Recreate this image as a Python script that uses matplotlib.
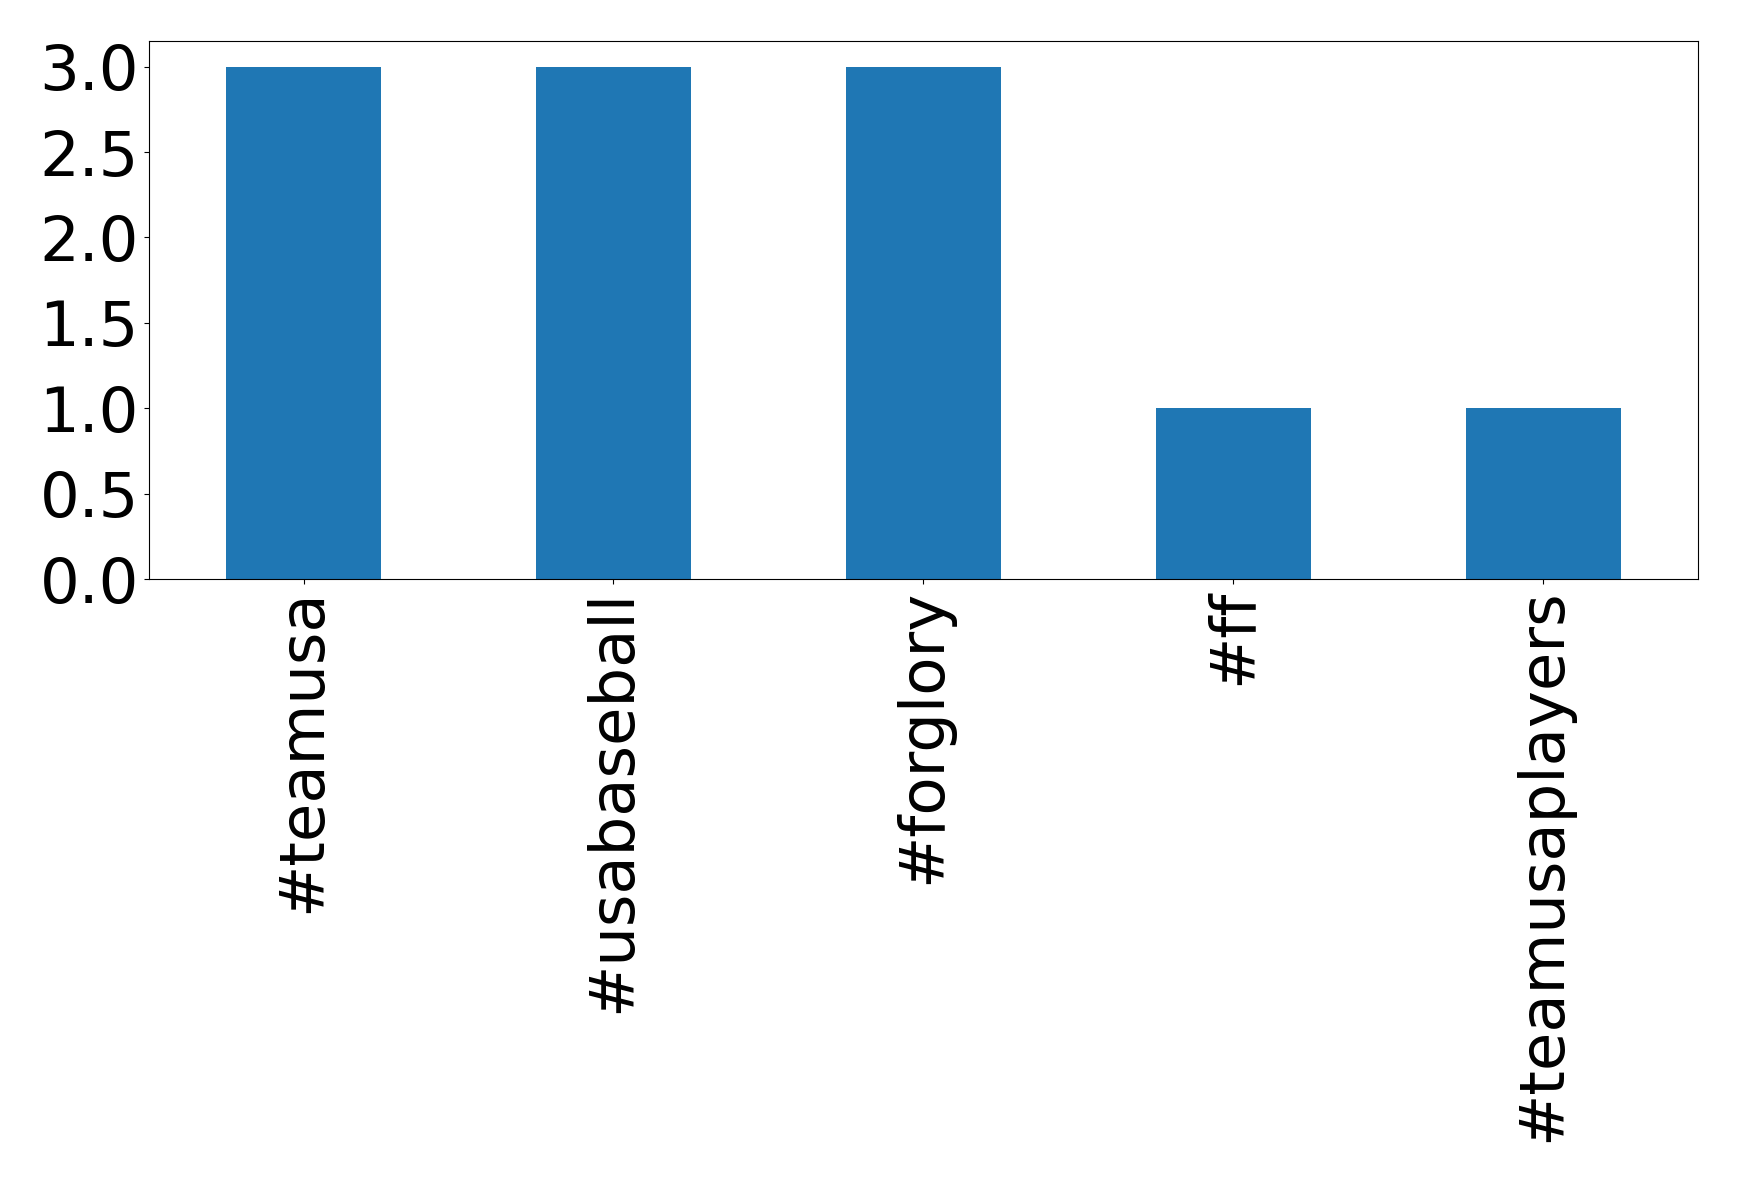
import matplotlib
matplotlib.use("Agg")
import matplotlib.pyplot as plt
from matplotlib.ticker import MultipleLocator, FormatStrFormatter
import pandas as pd

hashtags = ["#teamusa", "#usabaseball", "#forglory", "#ff", "#teamusaplayers"]
counts = [3.0, 3.0, 3.0, 1.0, 1.0]

s = pd.Series(counts, index=hashtags)

fig = plt.figure(figsize=(17.39, 11.82), dpi=100)
ax = fig.add_axes([148.6 / 1739, 1 - 579 / 1182, (1698 - 148.6) / 1739, (579 - 41) / 1182])
s.plot(kind="bar", ax=ax, color="#1f77b4")
ax.yaxis.set_major_locator(MultipleLocator(0.5))
ax.yaxis.set_major_formatter(FormatStrFormatter("%.1f"))
ax.tick_params(axis="both", labelsize=45)
ax.tick_params(axis="x", labelrotation=90)

fig.savefig("out.png", dpi=100)
